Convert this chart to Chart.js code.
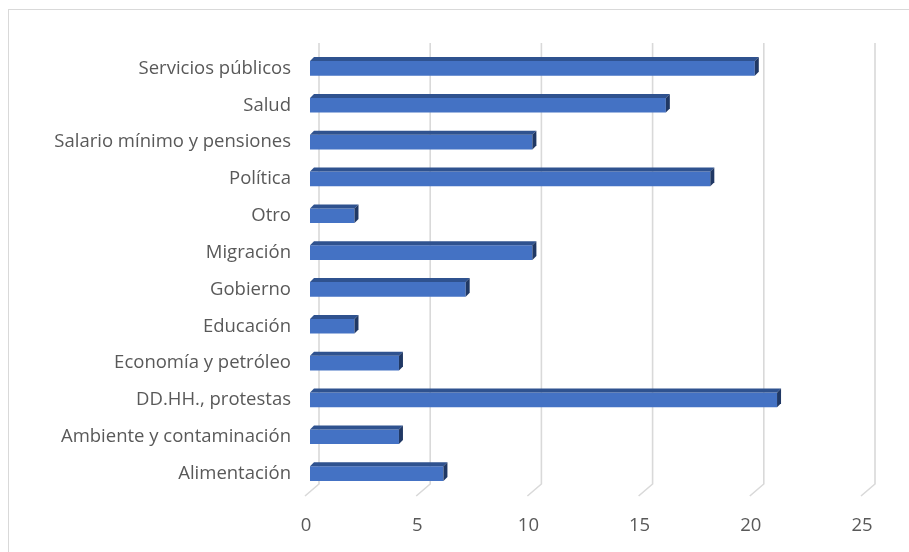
<!DOCTYPE html>
<html>
<head>
<meta charset="utf-8">
<script src="https://cdn.jsdelivr.net/npm/chart.js@4"></script>
<style>
  html, body { margin: 0; padding: 0; background: #fff; }
  #wrap { position: relative; width: 909px; height: 552px; overflow: hidden; }
  #frame { position: absolute; left: 8px; top: 9px; width: 920px; height: 560px; border: 1.5px solid #d9d9d9; box-sizing: border-box; }
  canvas { position: absolute; left: 0; top: 0; }
</style>
</head>
<body>
<div id="wrap">
  <div id="frame"></div>
  <canvas id="chart" width="909" height="552"></canvas>
</div>
<script>
// ---- data (top to bottom) ----
const categories = [
  'Servicios públicos', 'Salud', 'Salario mínimo y pensiones', 'Política', 'Otro',
  'Migración', 'Gobierno', 'Educación', 'Economía y petróleo', 'DD.HH., protestas',
  'Ambiente y contaminación', 'Alimentación'
];
const values = [20, 16, 10, 18, 2, 10, 7, 2, 4, 21, 4, 6];
const xTicks = [0, 5, 10, 15, 20, 25];

const FONT = "'Open Sans', Lato, sans-serif";
const TEXT = '#595959';
const GRID = '#d9d9d9';

// back wall + floor gridlines (3D look)
const gridPlugin = {
  id: 'grid3d',
  beforeDatasetsDraw(chart) {
    const { ctx, chartArea, scales } = chart;
    ctx.save();
    ctx.strokeStyle = GRID;
    ctx.lineWidth = 1.6;
    xTicks.forEach(v => {
      const px = scales.x.getPixelForValue(v);
      ctx.beginPath();
      ctx.moveTo(px + 9, chartArea.top - 7);
      ctx.lineTo(px + 9, chartArea.bottom - 8);
      ctx.lineTo(px - 5, chartArea.bottom + 4);
      ctx.stroke();
    });
    ctx.restore();
  }
};

// top and end faces of each bar
const barDepthPlugin = {
  id: 'barDepth',
  afterDatasetsDraw(chart) {
    const { ctx } = chart;
    const d = 4;
    ctx.save();
    chart.getDatasetMeta(0).data.forEach(bar => {
      const { x, y, base, height } = bar.getProps(['x', 'y', 'base', 'height'], true);
      const top = y - height / 2, bot = y + height / 2;
      // top face
      ctx.fillStyle = '#2f528f';
      ctx.beginPath();
      ctx.moveTo(base, top);
      ctx.lineTo(base + d, top - d);
      ctx.lineTo(x + d, top - d);
      ctx.lineTo(x, top);
      ctx.closePath();
      ctx.fill();
      // end face
      ctx.fillStyle = '#203864';
      ctx.beginPath();
      ctx.moveTo(x, top);
      ctx.lineTo(x + d, top - d);
      ctx.lineTo(x + d, bot - d);
      ctx.lineTo(x, bot);
      ctx.closePath();
      ctx.fill();
    });
    ctx.restore();
  }
};

new Chart(document.getElementById('chart'), {
  type: 'bar',
  data: {
    labels: categories,
    datasets: [{
      data: values,
      backgroundColor: '#4472c4',
      borderWidth: 0,
      barPercentage: 0.4,
      categoryPercentage: 1
    }]
  },
  options: {
    indexAxis: 'y',
    responsive: false,
    animation: false,
    events: [],
    layout: { padding: { top: 50, right: 43, left: 0, bottom: 0 } },
    plugins: { legend: { display: false }, tooltip: { enabled: false } },
    scales: {
      x: {
        min: 0, max: 25,
        afterBuildTicks(scale) { scale.ticks = xTicks.map(v => ({ value: v })); },
        grid: { display: false },
        border: { display: false },
        ticks: { color: TEXT, font: { family: FONT, size: 18.5 }, padding: 15, labelOffset: -4 },
        afterFit(scale) { scale.height = 60; }
      },
      y: {
        grid: { display: false },
        border: { display: false },
        ticks: { color: TEXT, font: { family: FONT, size: 18.5 }, padding: 11, autoSkip: false },
        afterFit(scale) { scale.width = 310; }
      }
    }
  },
  plugins: [gridPlugin, barDepthPlugin]
});
</script>
</body>
</html>
